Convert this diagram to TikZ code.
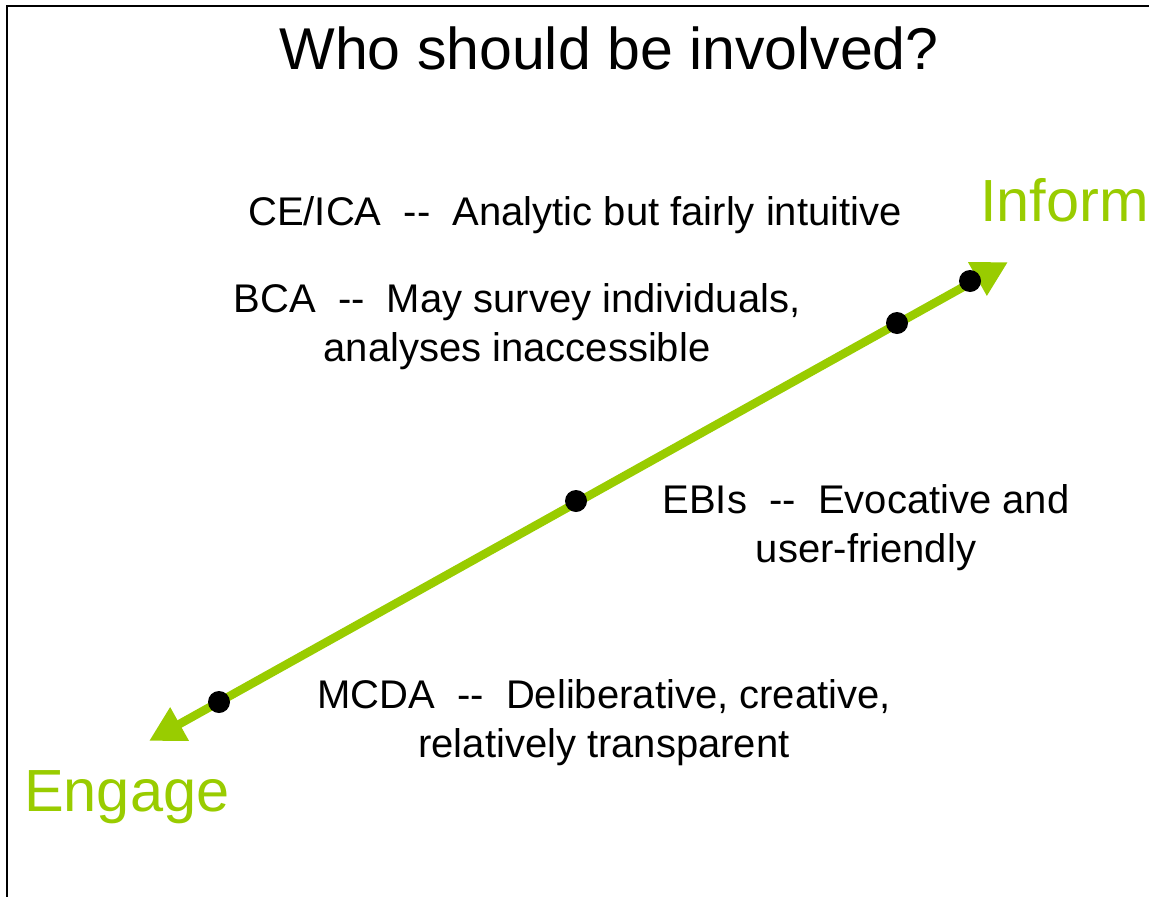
\documentclass[tikz,border=0pt]{standalone}
\usepackage{fontspec}
\setmainfont{Liberation Sans}
\usetikzlibrary{arrows.meta}
\definecolor{leaf}{RGB}{153,204,0}
\begin{document}
\begin{tikzpicture}[x=1pt,y=-1pt,
  label/.style={inner sep=0pt,align=center,font=\fontsize{40}{49}\selectfont,anchor=base},
  pole/.style={inner sep=0pt,text=leaf,font=\fontsize{59.5}{68}\selectfont,anchor=base west},
  dot/.style={circle,fill=black,minimum size=22pt,inner sep=0pt},
  axis/.style={draw=leaf,line width=8.5pt,{Triangle[length=35pt,width=36pt]}-{Triangle[length=35pt,width=36pt]}}]
\useasboundingbox (0,0) rectangle (1149,897);
\draw[line width=2pt] (7,897) -- (7,5.5) -- (1149,5.5);
\node[inner sep=0pt,anchor=base,font=\fontsize{59}{70}\selectfont] (title) at (609,69) {Who should be involved?};
\coordinate (eng) at (149,741);
\coordinate (inf) at (1008,262);
\draw[axis] (eng) -- (inf);
\node[dot] (d1) at (219,702) {};
\node[dot] (d2) at (576,501) {};
\node[dot] (d3) at (897,323) {};
\node[dot] (d4) at (970,281) {};
\node[pole] (inform) at (980,221) {Inform};
\node[pole] (engage) at (24,811) {Engage};
\node[label] (ce) at (575,225) {CE/ICA\ \ -{}-\ \ Analytic but fairly intuitive};
\node[label] (bca) at (517,361) {BCA\ \ -{}-\ \ May survey individuals,\\analyses inaccessible};
\node[label] (ebi) at (866,562) {EBIs\ \ -{}-\ \ Evocative and\\user-friendly};
\node[label] (mcda) at (604,757) {MCDA\ \ -{}-\ \ Deliberative, creative,\\relatively transparent};
\end{tikzpicture}
\end{document}
